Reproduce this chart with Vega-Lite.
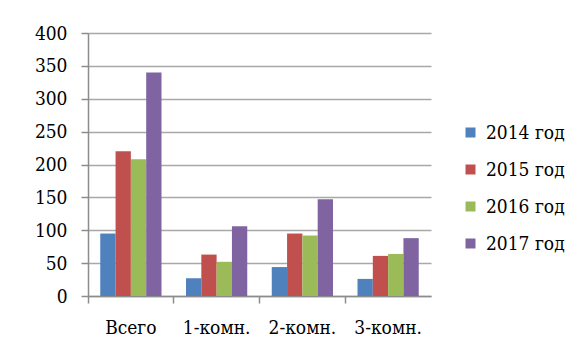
{
  "$schema": "https://vega.github.io/schema/vega-lite/v6.json",
  "width": 343,
  "height": 263,
  "autosize": "none",
  "padding": {"left": 88, "top": 33, "right": 150, "bottom": 64},
  "background": "white",
  "data": {
    "values": [
      {"type": "Всего", "year": "2014 год", "count": 95},
      {"type": "Всего", "year": "2015 год", "count": 220},
      {"type": "Всего", "year": "2016 год", "count": 208},
      {"type": "Всего", "year": "2017 год", "count": 340},
      {"type": "1-комн.", "year": "2014 год", "count": 27},
      {"type": "1-комн.", "year": "2015 год", "count": 63},
      {"type": "1-комн.", "year": "2016 год", "count": 52},
      {"type": "1-комн.", "year": "2017 год", "count": 106},
      {"type": "2-комн.", "year": "2014 год", "count": 44},
      {"type": "2-комн.", "year": "2015 год", "count": 95},
      {"type": "2-комн.", "year": "2016 год", "count": 92},
      {"type": "2-комн.", "year": "2017 год", "count": 147},
      {"type": "3-комн.", "year": "2014 год", "count": 26},
      {"type": "3-комн.", "year": "2015 год", "count": 61},
      {"type": "3-комн.", "year": "2016 год", "count": 64},
      {"type": "3-комн.", "year": "2017 год", "count": 88}
    ]
  },
  "mark": {"type": "bar"},
  "encoding": {
    "x": {
      "field": "type",
      "type": "nominal",
      "sort": ["Всего", "1-комн.", "2-комн.", "3-комн."],
      "scale": {"paddingInner": 0, "paddingOuter": 0},
      "axis": {
        "title": null,
        "labelAngle": 0,
        "bandPosition": 0,
        "tickSize": 7,
        "labelPadding": 15,
        "labelFont": "DejaVu Serif Condensed",
        "labelFontSize": 19,
        "grid": false
      }
    },
    "xOffset": {
      "field": "year",
      "type": "nominal",
      "scale": {"paddingInner": 0, "paddingOuter": 0.8}
    },
    "y": {
      "field": "count",
      "type": "quantitative",
      "scale": {"domain": [0, 400]},
      "axis": {
        "title": null,
        "values": [0, 50, 100, 150, 200, 250, 300, 350, 400],
        "tickSize": 7,
        "labelPadding": 14,
        "labelFont": "DejaVu Serif Condensed",
        "labelFontSize": 19,
        "grid": true
      }
    },
    "color": {
      "field": "year",
      "type": "nominal",
      "scale": {
        "domain": ["2014 год", "2015 год", "2016 год", "2017 год"],
        "range": ["#4F81BD", "#C0504D", "#9BBB59", "#8064A2"]
      },
      "legend": {
        "title": null,
        "orient": "none",
        "legendX": 373,
        "legendY": 90,
        "symbolType": "square",
        "symbolSize": 100,
        "symbolStrokeWidth": 0,
        "labelFont": "DejaVu Serif Condensed",
        "labelFontSize": 19,
        "labelOffset": 6,
        "rowPadding": 17
      }
    }
  },
  "config": {
    "view": {"stroke": null},
    "axis": {
      "labelColor": "#000000",
      "domainColor": "#8c8c8c",
      "tickColor": "#8c8c8c",
      "gridColor": "#a8a8a8",
      "domainWidth": 1.5,
      "tickWidth": 1.5,
      "gridWidth": 1.5
    },
    "legend": {
      "labelColor": "#000000"
    }
  }
}
